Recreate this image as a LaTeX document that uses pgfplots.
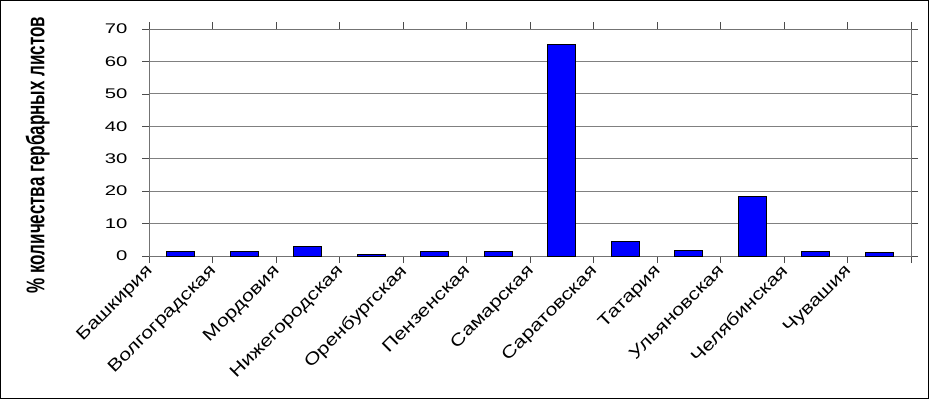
\documentclass[border=0pt]{standalone}
\usepackage{pgfplots}
\pgfplotsset{compat=1.18}
\usepackage{fontspec}
\setmainfont{Liberation Sans}
\newfontfamily\widefont[FakeStretch=1.45]{Liberation Sans}
\newfontfamily\xfont[FakeStretch=1.25]{Liberation Sans}
\begin{document}
\begin{tikzpicture}
\path[use as bounding box] (-149bp,-143bp) rectangle (780bp,256bp);
\draw[black, line width=1bp] (-148.5bp,-142.5bp) rectangle (779.5bp,255.5bp);
\begin{axis}[
  at={(0,0)}, anchor=south west,
  scale only axis, width=762bp, height=227bp,
  xmin=-0.5, xmax=11.5, ymin=0, ymax=70,
  ytick={0,10,...,70},
  xtick={-0.5,0.5,...,11.5},
  xticklabels={Башкирия,Волгоградская,Мордовия,Нижегородская,Оренбургская,Пензенская,Самарская,Саратовская,Татария,Ульяновская,Челябинская,Чувашия,{}},
  /pgf/number format/assume math mode=true,
  tick align=outside, major tick length=7bp,
  tick style={color=black!70, line width=0.6bp},
  axis line style={color=black!55, line width=0.8bp},
  ymajorgrids, grid style={color=black!50, line width=0.8bp},
  y tick label style={font=\widefont\fontsize{14bp}{16bp}\selectfont, xshift=-11bp},
  x tick label style={font=\xfont\fontsize{17bp}{19bp}\selectfont, rotate=45, anchor=north east, inner sep=1bp, xshift=-2bp, yshift=4bp},
  ylabel={\scalebox{1}[1.5]{\bfseries\fontsize{17bp}{19bp}\selectfont \% количества гербарных листов}},
  ylabel style={at={(axis description cs:-0.146,0.445)}, anchor=center},
]
\addplot[ybar, bar width=28bp, fill={rgb,255:red,0;green,0;blue,255}, draw=black, line width=1bp]
  coordinates {(0,1.3) (1,1.3) (2,3.0) (3,0.5) (4,1.3) (5,1.3) (6,65.2) (7,4.4) (8,1.8) (9,18.5) (10,1.4) (11,1.1)};
\end{axis}
\end{tikzpicture}
\end{document}
